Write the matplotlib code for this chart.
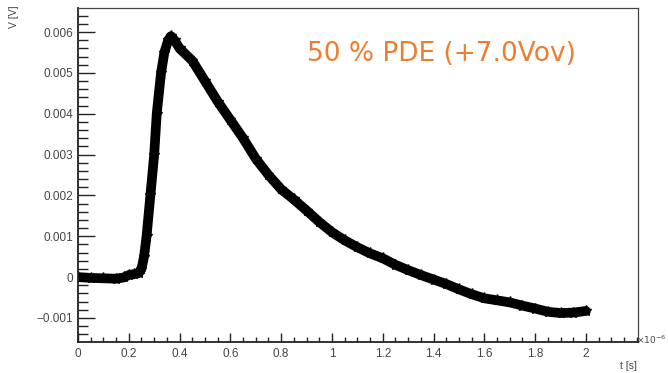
import matplotlib
matplotlib.use("Agg")
import matplotlib.pyplot as plt
from matplotlib.ticker import MultipleLocator

# time in units of 1e-6 s, voltage in V
t_us = [0.00, 0.05, 0.10, 0.15, 0.18, 0.20, 0.22, 0.24, 0.25, 0.26, 0.27,
        0.285, 0.30, 0.31, 0.327, 0.34, 0.355, 0.366, 0.38, 0.40, 0.45, 0.50,
        0.55, 0.60, 0.65, 0.70, 0.75, 0.80, 0.85, 0.90, 0.95, 1.00, 1.05,
        1.10, 1.15, 1.20, 1.25, 1.30, 1.35, 1.40, 1.45, 1.50, 1.55, 1.60,
        1.65, 1.70, 1.75, 1.80, 1.85, 1.90, 1.95, 2.00]
volts = [0.0000, -0.00002, -0.00003, -0.00004, -0.00001, 0.00005, 0.00007,
         0.00010, 0.00020, 0.00050, 0.0010, 0.0020, 0.0030, 0.0040, 0.0050,
         0.0055, 0.0058, 0.0059, 0.0058, 0.0056, 0.0053, 0.0048, 0.0043,
         0.00385, 0.0034, 0.0029, 0.0025, 0.00215, 0.0019, 0.00163, 0.00135,
         0.0011, 0.0009, 0.00073, 0.00058, 0.00046, 0.0003, 0.00017, 0.00005,
         -0.00006, -0.00017, -0.0003, -0.00042, -0.00052, -0.00057, -0.00062,
         -0.0007, -0.00077, -0.00085, -0.00088, -0.00087, -0.00083]

x_ticks = [0, 0.2, 0.4, 0.6, 0.8, 1.0, 1.2, 1.4, 1.6, 1.8, 2.0]
x_tick_labels = ["0", "0.2", "0.4", "0.6", "0.8", "1", "1.2", "1.4", "1.6", "1.8", "2"]
y_ticks = [-0.001, 0, 0.001, 0.002, 0.003, 0.004, 0.005, 0.006]
y_tick_labels = ["\u22120.001", "0", "0.001", "0.002", "0.003", "0.004", "0.005", "0.006"]

title_text = "50 % PDE (+7.0Vov)"

plt.rcParams['font.family'] = ['Liberation Sans', 'DejaVu Sans']

fig = plt.figure(figsize=(6.68, 3.73), dpi=100)
ax = fig.add_axes([78/668, 31/373, 560/668, 334/373])

ax.plot(t_us, volts, color='black', lw=7, solid_capstyle='round',
        solid_joinstyle='round',
        marker='*', markersize=8, markerfacecolor='black',
        markeredgecolor='black')

ax.set_xlim(0, 2.205)
ax.set_ylim(-0.00159, 0.00659)

ax.set_xticks(x_ticks)
ax.set_xticklabels(x_tick_labels)
ax.set_yticks(y_ticks)
ax.set_yticklabels(y_tick_labels)
ax.xaxis.set_minor_locator(MultipleLocator(0.05))
ax.yaxis.set_minor_locator(MultipleLocator(0.0002))

ax.tick_params(axis='x', which='major', direction='in', length=6.5, width=1,
               labelsize=8.5, pad=4, colors='#222222', labelcolor='#444444')
ax.tick_params(axis='x', which='minor', direction='in', length=3.3, width=1,
               colors='#222222')
ax.tick_params(axis='y', which='major', direction='in', length=12, width=1,
               labelsize=8.5, pad=3.5, colors='#222222', labelcolor='#444444')
ax.tick_params(axis='y', which='minor', direction='in', length=7, width=1,
               colors='#222222')

for s in ['left', 'bottom']:
    ax.spines[s].set_linewidth(1.3)
    ax.spines[s].set_color('#222222')
for s in ['top', 'right']:
    ax.spines[s].set_linewidth(0.9)
    ax.spines[s].set_color('#444444')

fig.text(14/668, 1 - 5/373, "V [V]", rotation=90, ha='center', va='top',
         fontsize=7.5, color='#444444')
fig.text(637/668, 1 - 366/373, "t [s]", ha='right', va='center',
         fontsize=7.5, color='#444444')
fig.text(666/668, 1 - 340/373, r"$\times10^{-6}$", ha='right', va='center',
         fontsize=6.5, color='#444444')

fig.text(441/668, 1 - 54/373, title_text, ha='center', va='center',
         fontsize=19, color='#ED7D31', family=['DejaVu Sans'])

fig.savefig("out.png", dpi=100)
